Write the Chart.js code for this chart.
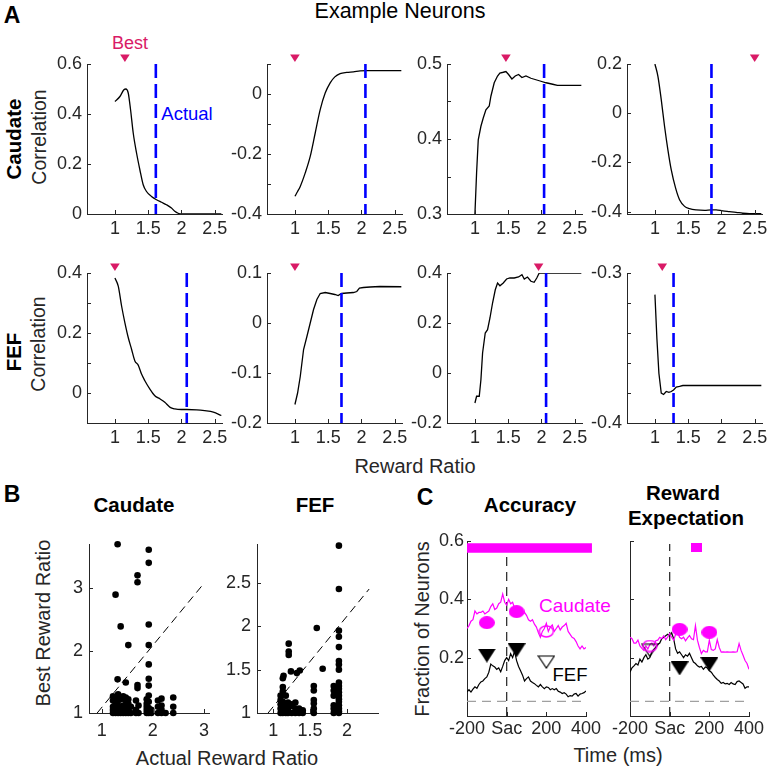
<!DOCTYPE html>
<html><head><meta charset="utf-8"><title>Example Neurons</title>
<script src="https://cdn.jsdelivr.net/npm/chart.js@4.4.1/dist/chart.umd.min.js"></script>
<style>
html,body{margin:0;padding:0;background:#fff;}
#fig{position:relative;width:771px;height:771px;overflow:hidden;background:#fff;font-family:"Liberation Sans",Arial,Helvetica,sans-serif;color:#262626;}
#fig canvas{position:absolute;}
.t{position:absolute;white-space:nowrap;line-height:1;transform:translate(-50%,-50%);}
.r{transform:translate(-50%,-50%) rotate(-90deg);}
.b{font-weight:bold;color:#000;}
</style></head><body>
<div id="fig">
<div class="t b" style="left:12px;top:15px;font-size:23px">A</div>
<div class="t" style="left:400px;top:12px;font-size:21.5px;color:#000">Example Neurons</div>
<div class="t" style="left:130px;top:43px;font-size:18px;color:#D91A66">Best</div>
<div class="t" style="left:187px;top:114px;font-size:18.5px;color:#0000FF">Actual</div>
<div class="t r b" style="left:14px;top:139px;font-size:20.5px">Caudate</div>
<div class="t r" style="left:40px;top:137px;font-size:19.5px">Correlation</div>
<div class="t r b" style="left:14px;top:352px;font-size:20.5px">FEF</div>
<div class="t r" style="left:39px;top:344px;font-size:19.5px">Correlation</div>
<div class="t" style="left:415px;top:466px;font-size:20px">Reward Ratio</div>
<div class="t b" style="left:12px;top:494px;font-size:23px">B</div>
<div class="t b" style="left:134px;top:505px;font-size:20.5px">Caudate</div>
<div class="t b" style="left:315px;top:505px;font-size:20.5px">FEF</div>
<div class="t r" style="left:43px;top:623px;font-size:20px">Best Reward Ratio</div>
<div class="t" style="left:227px;top:758px;font-size:20px">Actual Reward Ratio</div>
<div class="t b" style="left:425px;top:497px;font-size:23px">C</div>
<div class="t b" style="left:530px;top:505px;font-size:20.5px">Accuracy</div>
<div class="t b" style="left:683px;top:493px;font-size:20.5px">Reward</div>
<div class="t b" style="left:686px;top:518px;font-size:20.5px">Expectation</div>
<div class="t r" style="left:422px;top:629px;font-size:20px">Fraction of Neurons</div>
<div class="t" style="left:575px;top:605px;font-size:19px;color:#FF00FF">Caudate</div>
<div class="t" style="left:570px;top:675px;font-size:18.5px;color:#000">FEF</div>
<div class="t" style="left:618px;top:755px;font-size:20px">Time (ms)</div>
</div>
<script>
// ================= DATA =================
// Panel A: correlation vs reward ratio, example neurons
const cau1X = [1.0,1.075,1.135,1.165,1.2,1.235,1.275,1.325,1.375,1.425,1.475,1.55,1.625,1.7,1.775,1.85,1.9,1.95,2.0,2.6];
const cau1Y = [0.45,0.47,0.497,0.5,0.484,0.417,0.324,0.244,0.177,0.117,0.09,0.07,0.057,0.047,0.037,0.024,0.011,0.003,0.0,0.0];
const cau2X = [1.0,1.04,1.08,1.155,1.23,1.305,1.38,1.455,1.53,1.6,1.68,1.78,1.88,1.98,2.08,2.6];
const cau2Y = [-0.341,-0.325,-0.308,-0.263,-0.208,-0.13,-0.052,0.003,0.037,0.057,0.068,0.072,0.074,0.077,0.078,0.078];
const cau3X = [1.0,1.025,1.05,1.09,1.125,1.165,1.215,1.24,1.29,1.34,1.375,1.426,1.466,1.506,1.556,1.606,1.656,1.707,1.767,1.842,1.917,1.992,2.07,2.17,2.24,2.6];
const cau3Y = [0.3,0.355,0.399,0.417,0.428,0.439,0.444,0.457,0.475,0.484,0.488,0.489,0.49,0.486,0.48,0.484,0.486,0.482,0.484,0.481,0.479,0.477,0.475,0.473,0.4715,0.4715];
const cau4X = [1.0,1.045,1.095,1.145,1.195,1.245,1.31,1.37,1.446,1.52,1.62,1.747,1.847,1.92,2.02,2.12,2.22,2.32,2.42,2.6];
const cau4Y = [0.2,0.15,0.055,-0.054,-0.149,-0.23,-0.304,-0.352,-0.379,-0.388,-0.393,-0.395,-0.393,-0.393,-0.397,-0.4,-0.403,-0.407,-0.409,-0.409];
const fef1X = [1.0,1.05,1.1,1.15,1.2,1.25,1.3,1.35,1.4,1.45,1.526,1.6,1.68,1.75,1.83,1.9,2.0,2.08,2.23,2.35,2.48,2.6];
const fef1Y = [0.383,0.356,0.29,0.234,0.185,0.146,0.107,0.093,0.063,0.041,0.013,-0.009,-0.02,-0.031,-0.048,-0.053,-0.055,-0.055,-0.056,-0.059,-0.064,-0.075];
const fef2X = [1.0,1.04,1.08,1.13,1.18,1.23,1.28,1.33,1.38,1.455,1.53,1.6,1.65,1.7,1.78,1.88,1.93,1.97,2.03,2.13,2.28,2.6];
const fef2Y = [-0.163,-0.14,-0.107,-0.053,-0.027,0.0,0.027,0.047,0.059,0.061,0.059,0.057,0.055,0.059,0.06,0.061,0.063,0.07,0.071,0.072,0.073,0.0725];
const fef3X = [1.0,1.025,1.065,1.09,1.115,1.155,1.19,1.226,1.265,1.306,1.34,1.376,1.426,1.476,1.526,1.59,1.656,1.707,1.742,1.79,1.842,1.89,1.93,1.967,2.6];
const fef3Y = [-0.12,-0.093,-0.093,-0.027,0.08,0.16,0.173,0.22,0.28,0.333,0.36,0.349,0.36,0.376,0.38,0.38,0.384,0.393,0.376,0.384,0.367,0.363,0.38,0.4,0.4];
const fef4X = [1.0,1.03,1.06,1.095,1.13,1.17,1.21,1.246,1.28,1.32,1.37,1.42,2.6];
const fef4Y = [-0.3144,-0.344,-0.367,-0.38,-0.381,-0.379,-0.3796,-0.379,-0.378,-0.376,-0.3756,-0.375,-0.375];
const bestCau = [1.15, 1.0, 1.466, 2.5];
const bestFef = [1.0, 1.0, 1.957, 1.11];
const actualCau = [1.615, 2.06, 2.04, 1.85];
const actualFef = [2.08, 1.70, 2.07, 1.28];
const rewardTicks = [1, 1.5, 2, 2.5];
const yMinCau = [0, -0.4, 0.3, -0.41];
const yMaxCau = [0.6, 0.1, 0.5, 0.2];
const yMinFef = [-0.1, -0.2, -0.2, -0.4];
const yMaxFef = [0.4, 0.1, 0.4, -0.3];
const yTicksCau = [[0,0.2,0.4,0.6],[-0.4,-0.3,-0.2,-0.1,0,0.1],[0.3,0.35,0.4,0.45,0.5],[-0.4,-0.2,0,0.2]];
const yLabelsCau = [[0,0.2,0.4,0.6],[-0.4,-0.2,0],[0.3,0.4,0.5],[-0.4,-0.2,0,0.2]];
const yTicksFef = [[-0.1,0,0.1,0.2,0.3,0.4],[-0.2,-0.1,0,0.1],[-0.2,0,0.2,0.4],[-0.4,-0.38,-0.36,-0.34,-0.32,-0.3]];
const yLabelsFef = [[0,0.2,0.4],[-0.2,-0.1,0,0.1],[-0.2,0,0.2,0.4],[-0.4,-0.3]];

// Panel B: best vs actual reward ratio
const cauActual = [1.31,1.27,1.37,1.52,1.70,1.70,1.92,1.92,1.92,1.92,1.92,1.92,1.31,1.47,1.70,1.70,1.92,
  1.22,1.22,1.22,1.22,1.22,1.27,1.27,1.27,1.27,1.32,1.32,1.32,1.32,1.32,1.37,1.37,1.37,
  1.42,1.42,1.42,1.42,1.47,1.47,1.47,1.47,1.52,1.52,1.52,1.52,1.57,1.57,1.67,1.67,1.67,1.72,1.72,
  1.88,1.88,1.88,1.88,1.88,1.92,1.92,1.92,1.92,1.97,1.97,2.1,2.1,2.1,2.17,2.17,2.17,2.17,2.25,2.4,2.4,2.4];
const cauBest = [3.71,2.90,2.39,2.09,3.21,3.10,3.62,3.41,2.42,2.09,1.78,1.55,1.54,1.49,1.45,1.40,1.44,
  1.0,1.05,1.1,1.2,1.27,1.0,1.08,1.15,1.25,1.0,1.05,1.12,1.2,1.3,1.0,1.08,1.22,
  1.0,1.05,1.12,1.27,1.0,1.1,1.2,1.25,1.0,1.05,1.15,1.22,1.0,1.1,1.0,1.05,1.2,1.0,1.12,
  1.0,1.05,1.1,1.15,1.22,1.0,1.08,1.18,1.28,1.0,1.05,1.0,1.1,1.2,1.0,1.05,1.12,1.23,1.0,1.0,1.1,1.25];
const fefActual = [1.89,1.89,1.59,1.89,1.89,1.89,1.21,1.21,1.21,1.89,1.89,1.67,1.36,1.32,1.24,1.14,1.13,1.89,
  1.89,1.89,1.89,1.89,1.89,1.89,1.89,1.89,1.89,1.89,1.89,
  1.82,1.82,1.82,1.82,1.82,1.82,1.55,1.55,1.55,1.55,1.55,1.55,
  1.1,1.1,1.1,1.1,1.1,1.13,1.13,1.13,1.13,1.13,1.17,1.17,1.17,1.17,1.2,1.2,1.2,1.25,1.25,1.25,1.3,1.3,1.3,1.35,1.35,1.4,1.4];
const fefBest = [2.93,2.43,1.98,1.95,1.88,1.76,1.80,1.71,1.67,1.60,1.56,1.51,1.49,1.46,1.48,1.43,1.40,1.50,
  1.35,1.31,1.28,1.24,1.20,1.16,1.13,1.09,1.05,1.02,1.0,
  1.31,1.26,1.20,1.09,1.05,1.0,1.31,1.26,1.15,1.11,1.05,1.0,
  1.0,1.05,1.1,1.15,1.2,1.0,1.08,1.13,1.25,1.3,1.0,1.05,1.1,1.2,1.0,1.05,1.12,1.0,1.08,1.1,1.0,1.05,1.12,1.0,1.05,1.0,1.03];
const cauRefX = [0.91, 3.0], cauRefY = [1.0, 3.08];
const fefRefX = [0.93, 2.30], fefRefY = [1.0, 2.43];

// Panel C: fraction of neurons over time (ms from saccade)
const timeMs = [-200,-190,-180,-170,-160,-150,-140,-130,-120,-110,-100,-90,-80,-70,-60,-50,-40,-30,-20,-10,
  0,10,20,30,40,50,60,70,80,90,100,110,120,130,140,150,160,170,180,190,200,210,220,230,240,250,260,270,280,290,
  300,310,320,330,340,350,360,370,380,390,400];
const accCau = [0.30,0.31,0.325,0.33,0.36,0.35,0.355,0.355,0.36,0.35,
  0.355,0.36,0.375,0.385,0.365,0.37,0.385,0.39,0.418,0.39,
  0.38,0.40,0.385,0.39,0.37,0.375,0.365,0.37,0.35,0.355,
  0.345,0.33,0.325,0.33,0.315,0.305,0.285,0.27,0.29,0.30,
  0.318,0.29,0.305,0.312,0.29,0.30,0.31,0.295,0.305,0.31,
  0.318,0.29,0.28,0.27,0.266,0.255,0.24,0.23,0.24,0.23,0.235];
const accFef = [0.083,0.09,0.082,0.092,0.10,0.095,0.108,0.117,0.12,0.128,
  0.134,0.15,0.178,0.172,0.168,0.16,0.165,0.152,0.17,0.19,
  0.20,0.19,0.214,0.20,0.222,0.19,0.17,0.155,0.14,0.12,
  0.128,0.134,0.12,0.115,0.111,0.105,0.10,0.108,0.10,0.094,
  0.10,0.098,0.09,0.094,0.09,0.094,0.085,0.082,0.077,0.08,
  0.075,0.066,0.07,0.068,0.075,0.077,0.068,0.075,0.077,0.08,0.086];
const reCau = [0.27,0.265,0.25,0.25,0.26,0.24,0.232,0.225,0.24,0.23,
  0.245,0.25,0.24,0.258,0.26,0.27,0.265,0.275,0.262,0.27,
  0.282,0.27,0.26,0.28,0.287,0.27,0.265,0.27,0.258,0.268,
  0.276,0.265,0.262,0.31,0.26,0.235,0.214,0.225,0.22,0.22,
  0.26,0.228,0.225,0.23,0.262,0.235,0.219,0.22,0.219,0.22,
  0.219,0.219,0.22,0.219,0.22,0.248,0.225,0.208,0.19,0.18,0.16];
const reFef = [0.15,0.165,0.172,0.18,0.175,0.195,0.185,0.20,0.21,0.195,
  0.20,0.22,0.228,0.235,0.245,0.25,0.265,0.27,0.275,0.28,
  0.275,0.285,0.265,0.23,0.215,0.22,0.21,0.20,0.21,0.205,
  0.215,0.20,0.185,0.18,0.172,0.168,0.17,0.16,0.168,0.165,
  0.155,0.15,0.14,0.132,0.125,0.12,0.112,0.115,0.11,0.112,
  0.108,0.115,0.11,0.108,0.118,0.12,0.115,0.11,0.095,0.10,0.10];
const accCauSigT = [-100, 50], accCauSigY = [0.32, 0.358];
const accCauNsT = [200], accCauNsY = [0.29];
const accFefSigT = [-100, 50], accFefSigY = [0.207, 0.225];
const accFefNsT = [200], accFefNsY = [0.185];
const accDiffT = [-200, 430], accDiffY = [0.576, 0.576];
const reCauSigT = [50, 200], reCauSigY = [0.297, 0.287];
const reCauNsT = [-100], reCauNsY = [0.24];
const reFefSigT = [50, 200], reFefSigY = [0.163, 0.177];
const reFefNsT = [-100], reFefNsY = [0.225];
const reDiffT = [135], reDiffY = [0.578];
const chanceT = [-200, 400], chanceY = [0.05, 0.05];
const sacT = [0, 0], sacY = [0, 0.59];
const timeTicks = [-200, 0, 200, 400];
const fracTicks = [0.2, 0.4, 0.6];

// ================= STYLE / LAYOUT =================
const FONT = '"Liberation Sans", Arial, Helvetica, sans-serif';
const AX = '#262626';
const CRIMSON = '#D91A66', BLUE = '#0000FF', MAGENTA = '#FF00FF';
Chart.defaults.font.family = FONT;
Chart.defaults.font.size = 18;
Chart.defaults.color = AX;
const fig = document.getElementById('fig');

const zip = (xs, ys) => xs.map((x, i) => ({x, y: ys[i]}));
const isIn = (v, arr) => arr.some(a => Math.abs(a - v) < 1e-9);
const fmt = v => String(Math.round(v * 1000) / 1000);

const inwardTicks = {
  id: 'inwardTicks',
  afterDraw(chart) {
    const ctx = chart.ctx;
    ctx.save();
    ctx.strokeStyle = AX; ctx.lineWidth = 1;
    ctx.beginPath();
    const sx = chart.scales.x, sy = chart.scales.y;
    sx.ticks.forEach(t => {
      const p = Math.round(sx.getPixelForValue(t.value)) + 0.5;
      ctx.moveTo(p, sx.top); ctx.lineTo(p, sx.top - 4);
    });
    sy.ticks.forEach(t => {
      const p = Math.round(sy.getPixelForValue(t.value)) + 0.5;
      ctx.moveTo(sy.right, p); ctx.lineTo(sy.right + 4, p);
    });
    ctx.stroke();
    ctx.restore();
  }
};

// "Best" marker: downward triangle just above the plot, placed at a data x through the x scale
function bestMarker(value) {
  return {
    id: 'bestMarker',
    afterDatasetsDraw(chart) {
      const x = chart.scales.x.getPixelForValue(value);
      const top = chart.chartArea.top;
      const ctx = chart.ctx;
      ctx.save();
      ctx.fillStyle = CRIMSON;
      ctx.beginPath();
      ctx.moveTo(x - 4.8, top - 9.5);
      ctx.lineTo(x + 4.8, top - 9.5);
      ctx.lineTo(x, top - 2);
      ctx.closePath();
      ctx.fill();
      ctx.restore();
    }
  };
}

function axisOpts(axis, o, size) {
  return {
    type: 'linear', position: axis === 'x' ? 'bottom' : 'left',
    min: o.min, max: o.max, bounds: 'data',
    grid: {display: false, drawTicks: false, tickLength: 0},
    border: {display: true, color: AX, width: 1},
    ticks: {
      autoSkip: false, maxRotation: 0, minRotation: 0, padding: o.pad, color: AX,
      font: {size: 18, family: FONT},
      callback: (v) => o.fmt ? o.fmt(v) : (isIn(v, o.labels) ? fmt(v) : '')
    },
    afterBuildTicks: (s) => { s.ticks = o.ticks.map(v => ({value: v})); },
    afterFit: (s) => { if (axis === 'x') s.height = size; else s.width = size; }
  };
}

function makeChart(area, pad, datasets, xo, yo, extraPlugins) {
  const c = document.createElement('canvas');
  const W = pad.l + area.w + pad.r, H = pad.t + area.h + pad.b;
  c.width = W; c.height = H;
  c.style.left = (area.x - pad.l) + 'px'; c.style.top = (area.y - pad.t) + 'px';
  c.style.width = W + 'px'; c.style.height = H + 'px';
  fig.appendChild(c);
  return new Chart(c, {
    type: 'scatter',
    data: {datasets},
    options: {
      responsive: false, animation: false, devicePixelRatio: 1,
      layout: {padding: {left: 0, top: pad.t, right: pad.r, bottom: 0}},
      plugins: {legend: {display: false}, tooltip: {enabled: false}},
      scales: {x: axisOpts('x', xo, pad.b), y: axisOpts('y', yo, pad.l)}
    },
    plugins: [inwardTicks].concat(extraPlugins || [])
  });
}

function lineDs(xs, ys, color, width, extra) {
  return Object.assign({type: 'line', data: zip(xs, ys), borderColor: color, borderWidth: width,
    pointRadius: 0, fill: false, tension: 0}, extra || {});
}

// ---------- Panel A ----------
const A_LEFT = [87, 267, 447, 627], A_TOP = [64, 273], A_W = 135, A_H = 150;
const A_XMIN = 0.58, A_XMAX = 2.61;
const A_PAD = {l: 70, t: 22, r: 14, b: 30};
const rowsA = [
  {curves: [[cau1X,cau1Y],[cau2X,cau2Y],[cau3X,cau3Y],[cau4X,cau4Y]], best: bestCau, actual: actualCau,
   ymin: yMinCau, ymax: yMaxCau, yt: yTicksCau, yl: yLabelsCau, smooth: [true,true,false,true]},
  {curves: [[fef1X,fef1Y],[fef2X,fef2Y],[fef3X,fef3Y],[fef4X,fef4Y]], best: bestFef, actual: actualFef,
   ymin: yMinFef, ymax: yMaxFef, yt: yTicksFef, yl: yLabelsFef, smooth: [true,false,false,false]}
];
rowsA.forEach((row, r) => {
  for (let i = 0; i < 4; i++) {
    const lo = row.ymin[i], hi = row.ymax[i];
    const ds = [
      lineDs([row.actual[i], row.actual[i]], [hi, lo], BLUE, 2.6, {borderDash: [14, 6]}),
      lineDs(row.curves[i][0], row.curves[i][1], '#000', 1.3,
        row.smooth[i] ? {cubicInterpolationMode: 'monotone'} : {})
    ];
    makeChart({x: A_LEFT[i], y: A_TOP[r], w: A_W, h: A_H}, A_PAD, ds,
      {min: A_XMIN, max: A_XMAX, ticks: rewardTicks, labels: rewardTicks, pad: 4},
      {min: lo, max: hi, ticks: row.yt[i], labels: row.yl[i], pad: 5},
      [bestMarker(row.best[i])]);
  }
});

// ---------- Panel B ----------
const B_PAD = {l: 60, t: 12, r: 14, b: 34};
function scatterDs(xs, ys) {
  return {type: 'scatter', data: zip(xs, ys), pointRadius: 3.3, backgroundColor: '#000', borderWidth: 0, clip: false};
}
makeChart({x: 89, y: 540, w: 120, h: 173}, B_PAD,
  [scatterDs(cauActual, cauBest), lineDs(cauRefX, cauRefY, '#000', 1, {borderDash: [8, 5]})],
  {min: 0.75, max: 3.1, ticks: [1, 2, 3], labels: [1, 2, 3], pad: 7},
  {min: 1, max: 3.7, ticks: [1, 2, 3], labels: [1, 2, 3], pad: 6});
makeChart({x: 257, y: 540, w: 121, h: 173}, B_PAD,
  [scatterDs(fefActual, fefBest), lineDs(fefRefX, fefRefY, '#000', 1, {borderDash: [8, 5]})],
  {min: 0.78, max: 2.42, ticks: [1, 1.5, 2], labels: [1, 1.5, 2], pad: 7},
  {min: 1, max: 2.94, ticks: [1, 1.5, 2, 2.5], labels: [1, 1.5, 2, 2.5], pad: 6});

// ---------- Panel C ----------
function markerCanvas(w, h, draw) {
  const c = document.createElement('canvas'); c.width = w; c.height = h;
  draw(c.getContext('2d'), w, h); return c;
}
const mkEllFill = markerCanvas(16, 13, (g, w, h) => { g.fillStyle = MAGENTA; g.beginPath(); g.ellipse(w/2, h/2, w/2, h/2, 0, 0, 2*Math.PI); g.fill(); });
const mkEllOpen = markerCanvas(16, 13, (g, w, h) => { g.strokeStyle = MAGENTA; g.lineWidth = 1.4; g.beginPath(); g.ellipse(w/2, h/2, w/2 - 1, h/2 - 1, 0, 0, 2*Math.PI); g.stroke(); });
const mkTriFill = markerCanvas(18, 14, (g, w, h) => { g.fillStyle = '#000'; g.beginPath(); g.moveTo(0, 0); g.lineTo(w, 0); g.lineTo(w/2, h); g.closePath(); g.fill(); });
const mkTriOpen = markerCanvas(18, 14, (g, w, h) => { g.strokeStyle = '#000'; g.lineWidth = 1.2; g.beginPath(); g.moveTo(1, 1); g.lineTo(w - 1, 1); g.lineTo(w/2, h - 1); g.closePath(); g.stroke(); });
const mkSquare = markerCanvas(11, 9, (g, w, h) => { g.fillStyle = MAGENTA; g.fillRect(0, 0, w, h); });
function markerDs(xs, ys, img) {
  return {type: 'scatter', data: zip(xs, ys), pointStyle: img, pointRadius: 8, borderWidth: 0, clip: false};
}
const C_PAD = {l: 60, t: 14, r: 18, b: 30};
const timeAxis = {min: -200, max: 400, ticks: timeTicks, pad: 2, fmt: v => (v === 0 ? 'Sac' : fmt(v))};
makeChart({x: 467, y: 541, w: 119, h: 175}, C_PAD, [
    lineDs(accDiffT, accDiffY, MAGENTA, 9.5, {clip: false, borderCapStyle: 'butt'}),
    markerDs(accCauSigT, accCauSigY, mkEllFill),
    markerDs(accCauNsT, accCauNsY, mkEllOpen),
    markerDs(accFefSigT, accFefSigY, mkTriFill),
    markerDs(accFefNsT, accFefNsY, mkTriOpen),
    lineDs(timeMs, accCau, MAGENTA, 1.2),
    lineDs(timeMs, accFef, '#000', 1.2),
    lineDs(sacT, sacY, '#333', 1.3, {borderDash: [9, 6]}),
    lineDs(chanceT, chanceY, '#A0A0A0', 1.3, {borderDash: [9, 6]})
  ], timeAxis,
  {min: 0, max: 0.6, ticks: fracTicks, labels: fracTicks, pad: 3});
makeChart({x: 630, y: 541, w: 119, h: 175}, C_PAD, [
    markerDs(reDiffT, reDiffY, mkSquare),
    markerDs(reCauSigT, reCauSigY, mkEllFill),
    markerDs(reCauNsT, reCauNsY, mkEllOpen),
    markerDs(reFefSigT, reFefSigY, mkTriFill),
    markerDs(reFefNsT, reFefNsY, mkTriOpen),
    lineDs(timeMs, reCau, MAGENTA, 1.2),
    lineDs(timeMs, reFef, '#000', 1.2),
    lineDs(sacT, sacY, '#333', 1.3, {borderDash: [9, 6]}),
    lineDs(chanceT, chanceY, '#A0A0A0', 1.3, {borderDash: [9, 6]})
  ], timeAxis,
  {min: 0, max: 0.6, ticks: fracTicks, labels: [], pad: 3});
</script>
</body></html>
